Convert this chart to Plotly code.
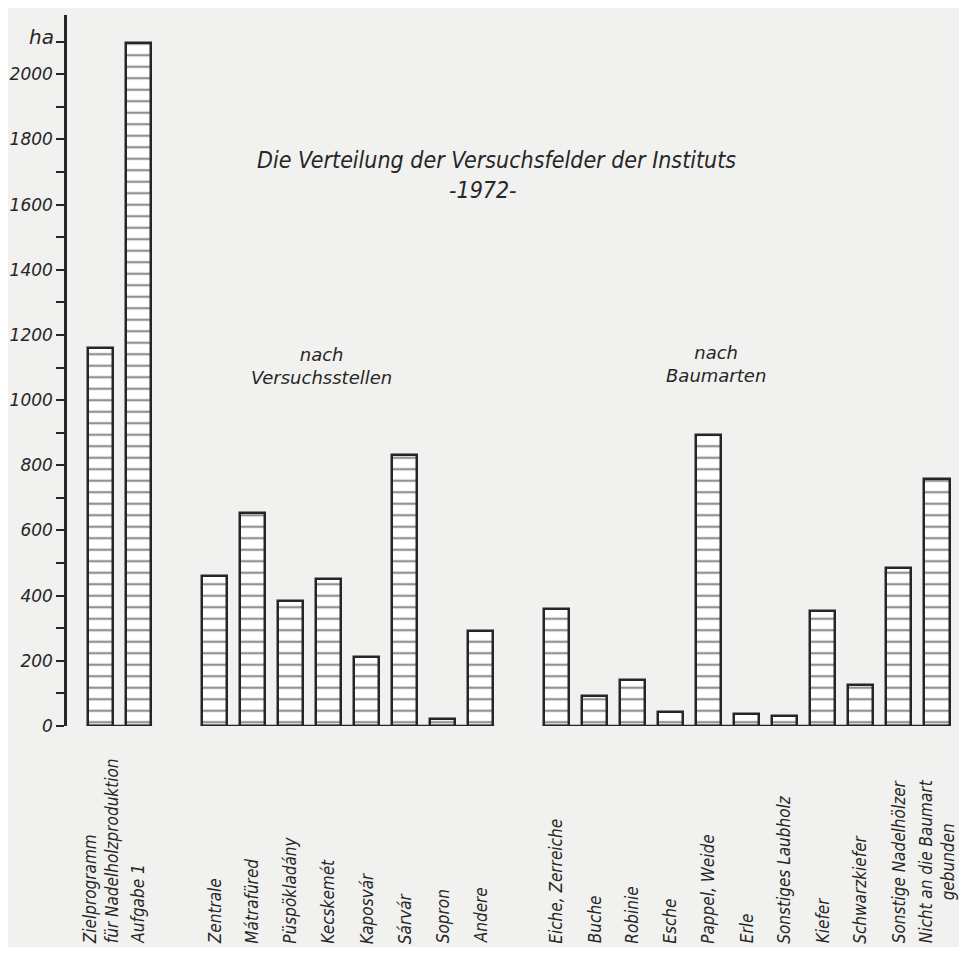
import plotly.graph_objects as go

# ---- data ----
group1_labels = ["Zielprogramm<br>für Nadelholzproduktion", "Aufgabe 1"]
group1_values = [1160, 2097]

group2_labels = ["Zentrale", "Mátrafüred", "Püspökladány", "Kecskemét", "Kaposvár",
                 "Sárvár", "Sopron", "Andere"]
group2_values = [460, 655, 383, 450, 212, 833, 21, 293]

group3_labels = ["Eiche, Zerreiche", "Buche", "Robinie", "Esche", "Pappel, Weide", "Erle",
                 "Sonstiges Laubholz", "Kiefer", "Schwarzkiefer", "Sonstige Nadelhölzer",
                 "Nicht an die Baumart<br>gebunden"]
group3_values = [358, 91, 140, 43, 893, 38, 30, 353, 125, 486, 757]

y_tickvals = [0, 200, 400, 600, 800, 1000, 1200, 1400, 1600, 1800, 2000]
y_ticktext = ["0", "200", "400", "600", "800", "1000", "1200", "1400", "1600", "1800", "2000"]

title_line1 = "Die Verteilung der Versuchsfelder der Instituts"
title_line2 = "-1972-"
unit_label = "ha"
group2_title = "nach<br>Versuchsstellen"
group3_title = "nach<br>Baumarten"

# ---- layout helpers ----
groups = [(group1_labels, group1_values), (group2_labels, group2_values),
          (group3_labels, group3_values)]
GAP = 1  # empty slots between groups

INK = "#262626"
PAPER = "#f1f1ef"
LABEL_FONT = "DejaVu Sans Condensed, Liberation Sans Narrow, sans-serif"

fig = go.Figure()
annotations = []
pos = 0
for labels, values in groups:
    xs = list(range(pos, pos + len(values)))
    # baseline of group
    fig.add_trace(go.Scatter(
        x=[xs[0] - 0.36, xs[-1] + 0.36], y=[0, 0], mode="lines",
        line=dict(color=INK, width=2.5), hoverinfo="skip", showlegend=False))
    fig.add_trace(go.Bar(
        x=xs, y=values, width=0.68,
        marker=dict(color="white",
                    line=dict(color=INK, width=2.5),
                    pattern=dict(shape="-", size=11.5, solidity=0.2,
                                 fgcolor=INK, bgcolor="white")),
        showlegend=False, hoverinfo="skip"))
    for x, lab in zip(xs, labels):
        annotations.append(dict(
            x=x, xref="x", y=-0.309, yref="paper", text=lab, textangle=-90,
            xanchor="center", yanchor="bottom", showarrow=False,
            align="center" if "gebunden" in lab else "left",
            font=dict(family=LABEL_FONT, size=17, color=INK, style="italic")))
    pos += len(values) + GAP

text_font = dict(family=LABEL_FONT, size=23, color=INK, style="italic")
group_font = dict(family="DejaVu Sans, sans-serif", size=18, color=INK, style="italic")

annotations += [
    dict(x=0.4815, y=0.796, xref="paper", yref="paper", text=title_line1,
         showarrow=False, font=text_font, xanchor="center", yanchor="middle"),
    dict(x=0.466, y=0.754, xref="paper", yref="paper", text=title_line2,
         showarrow=False, font=text_font, xanchor="center", yanchor="middle"),
    dict(x=0.285, y=0.507, xref="paper", yref="paper", text=group2_title,
         showarrow=False, font=group_font, xanchor="center", yanchor="middle",
         align="center"),
    dict(x=0.728, y=0.509, xref="paper", yref="paper", text=group3_title,
         showarrow=False, font=group_font, xanchor="center", yanchor="middle",
         align="center"),
    dict(x=-0.029, y=0.969, xref="paper", yref="paper", text=unit_label,
         showarrow=False, font=dict(family="DejaVu Sans, sans-serif", size=20,
                                    color=INK, style="italic"),
         xanchor="center", yanchor="middle"),
]

fig.update_layout(
    width=951, height=939,
    margin=dict(l=59, r=0, t=7, b=221),
    paper_bgcolor=PAPER, plot_bgcolor=PAPER,
    bargap=0, annotations=annotations,
    xaxis=dict(range=[-0.88, 22.59], showgrid=False, zeroline=False,
               showticklabels=False, ticks="", showline=False),
    yaxis=dict(range=[0, 2182], showgrid=False, zeroline=False,
               showline=True, linecolor=INK, linewidth=2.5,
               ticks="outside", ticklen=8, tickwidth=2, tickcolor=INK,
               tickvals=y_tickvals, ticktext=y_ticktext,
               tickfont=dict(family="DejaVu Sans, sans-serif", size=17, color=INK,
                             style="italic"),
               minor=dict(dtick=100, ticks="outside", ticklen=8, tickwidth=2,
                          tickcolor=INK, showgrid=False)),
)

fig.write_html("out.html")
